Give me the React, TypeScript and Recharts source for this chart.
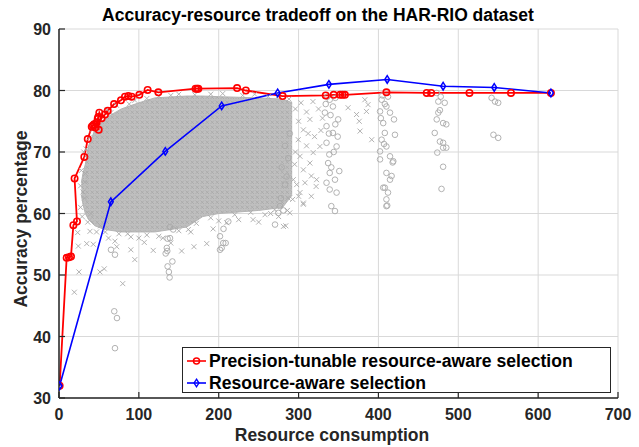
import React from 'react';
import { ComposedChart, Line, Scatter, Area, XAxis, YAxis, CartesianGrid } from 'recharts';

// precision-tunable resource-aware selection (red)
const tunablePoints: [number, number][] = [
  [0.8, 32], [9.6, 52.8], [12.5, 52.9], [15, 53], [18, 58.1], [22.5, 58.7], [19.5, 65.7],
  [31.7, 69.2], [36, 72.1], [41, 74.1], [42.5, 74.3], [44, 74.5], [45.5, 74], [47.2, 74.8],
  [49.7, 73.6], [48.5, 75.4], [49.2, 75.7], [50.5, 76.4], [53.4, 75.5], [57.6, 76.1], [61, 76.7],
  [69, 77.8], [77.6, 78.4], [82.6, 79.0], [86.8, 79.1], [91, 79], [100.6, 79.3], [111, 80.1],
  [124.4, 79.7], [171, 80.3], [173, 80.3], [174.5, 80.3], [223, 80.4], [234, 80], [280, 79.1],
  [334, 79.2], [344, 79.3], [352, 79.3], [355, 79.3], [358, 79.3], [410, 79.7], [460.5, 79.6],
  [466, 79.6], [514, 79.6], [566, 79.6], [616, 79.6],
];

// resource-aware selection (blue)
const awarePoints: [number, number][] = [
  [0.8, 32], [64.9, 61.9], [133.1, 70.1], [203.7, 77.5], [273.8, 79.6], [338, 81],
  [411, 81.8], [481, 80.7], [545, 80.5], [616, 79.6],
];

// dense cloud of candidate configurations
const cloudX = [28, 30, 33, 37, 45, 55, 58, 78, 100, 120, 160, 180, 200, 250, 280, 292];
const cloudTop = [65, 66.5, 68, 71, 73.6, 75, 75.5, 77, 78, 78.8, 79.1, 79.1, 79, 78.8, 78.6, 78];
const cloudBottom = [63, 61.5, 60, 59, 58, 57.5, 57.4, 57, 57, 57, 57.8, 59.5, 60, 60.5, 61, 63];

// sparse candidates drawn as crosses
const crossPoints: [number, number][] = [
  [32.6, 65.1], [23.4, 56.9], [24.2, 54.7], [34.7, 55.1], [25, 50.5], [19.2, 47.2], [51.3, 50.5],
  [56.7, 51], [79.8, 48.6], [43, 55], [38.8, 57.1], [72.3, 54.6], [90, 54.1], [94.9, 52.5],
  [86, 56.7], [106.8, 55.3], [118, 54], [153.6, 53.9], [169, 54.6], [185, 55.1], [162, 57.4],
  [193, 57.5], [243, 59], [250, 58.6], [284, 58], [287, 62.5], [297.6, 64.7], [300, 62.8],
  [306, 61.7], [316, 62.8], [322, 64.4], [281, 57.9], [289, 60.1], [292.6, 62.3], [301.8, 63.4],
  [308, 65], [316, 66.1], [322.6, 65.5], [306, 67.1], [314.2, 68.2], [318.3, 69.9], [326.7, 70.9],
  [301.8, 69.3], [293.4, 65.5], [306, 61.5], [299.6, 72], [306, 73.6], [314.2, 75.3], [362, 77.2],
  [372.6, 76.1], [376, 75], [385, 76.6], [387, 77.7], [377, 73.4], [391.6, 72], [383, 78.5],
  [27, 61], [29, 59.5], [36, 58.6], [47, 57], [62, 56], [70, 55.5], [100, 56], [130, 56],
  [140, 55.2], [210, 58.5], [225, 59], [265, 60], [275, 59.5], [296, 77], [303, 78], [310, 76.5],
  [318, 78.2], [325, 77], [330, 75.5], [300, 75], [312, 73], [320, 72.5], [296, 70], [328, 73.5],
  [295, 68], [310, 71], [28, 67], [27, 64.5], [31, 70],
  [34, 70.5], [38, 72.3], [42, 73.6], [52, 75.3], [65, 76.4], [88, 77.8], [110, 78.7], [140, 79.2],
  [170, 79.3], [190, 79.4], [230, 79.2], [262, 79], [288, 78.6], [32, 62.5], [40, 60], [52, 58],
  [75, 56.7], [110, 56.5], [150, 57.2], [172, 58.4], [190, 59.3], [220, 59.8], [240, 60.2], [270, 60.6],
  [60, 76.8], [72, 77.6], [95, 78.4], [125, 79.1], [150, 79.4], [205, 79.5], [245, 79.4], [275, 79.2],
  [35, 69.5], [33, 66.5], [30, 63.5], [58, 57], [90, 56.2], [125, 56.3], [165, 57], [200, 58.8],
  [258, 59.8], [286, 60.5],
];

// sparse candidates drawn as circles
const circlePoints: [number, number][] = [
  [70.1, 53.3], [65.1, 54.1], [69.2, 44.1], [72.6, 43], [70.1, 38.1],
  [139, 57.8], [136, 55.9], [135, 54.4], [133.6, 53.5], [142, 52.2], [136, 51.4], [137.6, 50.5],
  [138.5, 49.6], [143, 57.4], [139, 56], [135.6, 53.9],
  [201.6, 54.1], [208.7, 55.2], [201.6, 56.3], [205.7, 55.2], [203.7, 54.4], [212, 58.7], [206, 57.5],
  [270.5, 58.2], [274.6, 60.1], [276.7, 61.2], [283, 64.7], [278, 62.5], [281, 60.5], [285, 66],
  [279, 67.5], [287, 69], [283, 71], [289, 73],
  [339, 66.6], [345.6, 65.5], [335, 65], [351, 66.9], [339, 63.9], [347.6, 63.4], [341, 61.2],
  [345.6, 60.4], [338.5, 69.6], [337, 68.2], [347.6, 70.9], [335, 71.5], [343, 73.1], [335, 74.2],
  [349.6, 75.3], [333, 76.4], [343, 77.4], [339, 78.5], [353.8, 79.3], [340, 76], [346, 78.8],
  [336, 79], [349, 72.5], [341, 67.5], [344, 70], [338, 73], [346, 74.5], [334, 77.8],
  [404, 78.5], [410, 77.4], [402, 76.6], [414.5, 76.4], [406, 74.7], [419.5, 75.3], [408, 73.1],
  [404, 72], [420.7, 72.8], [410, 70.9], [402, 70.1], [414.5, 69.3], [402, 68.8], [418.6, 68.5],
  [410, 66.6], [414.5, 65.5], [408, 64.2], [412, 63.4], [410, 61.2], [410, 62.3], [416.5, 66.1],
  [406, 64.2], [411, 61.3], [417.8, 68.3], [405, 79.2], [412, 79], [408, 77.8], [403, 75.5], [407, 71.3],
  [473, 79.6], [478, 79], [475, 78.2], [483, 78], [475, 76.4], [477, 76.8], [473, 75.3], [481, 74.7],
  [485, 74.5], [470.5, 73.1], [477, 71.7], [481, 71.5], [485, 70.7], [481, 70.7], [473.7, 69.9],
  [481, 67.6], [479, 64],
  [541.7, 78.8], [546, 78.2], [550, 78], [544, 72.8], [550, 72.3],
];

const xTicks = [0, 100, 200, 300, 400, 500, 600, 700];
const yTicks = [30, 40, 50, 60, 70, 80, 90];

const FONT = '"Liberation Sans", Arial, Helvetica, sans-serif';
const INK = '#262626';

const toXY = (pts: [number, number][]) => pts.map(([x, y]) => ({ x, y }));
const cloudData = cloudX.map((x, i) => ({ x, range: [cloudBottom[i], cloudTop[i]] }));

const Cross = ({ cx, cy }: any) => (
  <path d={`M${cx - 2.5},${cy - 2.5}L${cx + 2.5},${cy + 2.5}M${cx - 2.5},${cy + 2.5}L${cx + 2.5},${cy - 2.5}`}
    stroke="#a9a9a9" strokeWidth={0.9} fill="none" />
);
const Ring = ({ cx, cy }: any) => (
  <circle cx={cx} cy={cy} r={2.8} stroke="#a9a9a9" strokeWidth={0.9} fill="none" />
);
const RedDot = ({ cx, cy, index }: any) => (
  <circle key={`r${index}`} cx={cx} cy={cy} r={3.2} stroke="#ff0000" strokeWidth={1.6} fill="none" />
);
const BlueDiamond = ({ cx, cy, index }: any) => (
  <path key={`b${index}`} d={`M${cx},${cy - 3.8}L${cx + 2.4},${cy}L${cx},${cy + 3.8}L${cx - 2.4},${cy}Z`}
    stroke="#0000ff" strokeWidth={1.5} fill="none" />
);

const YTick = ({ y, payload }: any) => (
  <g>
    <line x1={59} x2={65} y1={y} y2={y} stroke={INK} strokeWidth={1.2} />
    <text x={51} y={y + 6} textAnchor="end" fontSize={16} fontWeight="bold" fontFamily={FONT} fill={INK}>
      {payload.value}
    </text>
  </g>
);
const XTick = ({ x, payload }: any) => (
  <g>
    <line x1={x} x2={x} y1={398} y2={392} stroke={INK} strokeWidth={1.2} />
    <text x={x} y={420} textAnchor="middle" fontSize={16} fontWeight="bold" fontFamily={FONT} fill={INK}>
      {payload.value}
    </text>
  </g>
);

const legendItems = [
  { label: 'Precision-tunable resource-aware selection', color: '#ff0000', marker: 'o' },
  { label: 'Resource-aware selection', color: '#0000ff', marker: 'd' },
];

const LegendBox = () => (
  <div style={{ position: 'absolute', left: 182, top: 347, width: 429, height: 46, boxSizing: 'border-box',
    border: `1px solid ${INK}`, background: '#fff', fontFamily: FONT, fontSize: 17.6, fontWeight: 'bold', color: '#000' }}>
    {legendItems.map((it, i) => (
      <div key={i} style={{ position: 'absolute', left: 3, top: i === 0 ? 3 : 25, height: 20, lineHeight: '20px',
        display: 'flex', alignItems: 'center' }}>
        <svg width={21} height={12}>
          <line x1={1} x2={20} y1={6} y2={6} stroke={it.color} strokeWidth={1.6} />
          {it.marker === 'o'
            ? <circle cx={10.5} cy={6} r={3} stroke={it.color} strokeWidth={1.5} fill="none" />
            : <path d="M10.5,2.2L12.9,6L10.5,9.8L8.1,6Z" stroke={it.color} strokeWidth={1.4} fill="none" />}
        </svg>
        <span style={{ marginLeft: 2, whiteSpace: 'nowrap' }}>{it.label}</span>
      </div>
    ))}
  </div>
);

export default function App() {
  return (
    <div style={{ position: 'absolute', left: 0, top: 0, width: 639, height: 447, background: '#fff' }}>
      <ComposedChart width={639} height={447} margin={{ top: 29, right: 21, bottom: 0, left: 0 }}>
        <defs>
          <pattern id="cloudTex" width={5} height={5} patternUnits="userSpaceOnUse">
            <rect width={5} height={5} fill="#bfbfbf" />
            <path d="M0.5,0.5L4,4M0.5,4L4,0.5" stroke="#a8a8a8" strokeWidth={0.8} />
          </pattern>
        </defs>
        <CartesianGrid stroke="#d9d9d9" strokeWidth={1} vertical horizontal />
        <XAxis type="number" dataKey="x" domain={[0, 700]} ticks={xTicks} allowDataOverflow height={49}
          axisLine={{ stroke: INK, strokeWidth: 1.5 }} tickLine={false} tick={<XTick />} interval={0} />
        <YAxis type="number" domain={[30, 90]} ticks={yTicks} allowDataOverflow width={59}
          axisLine={{ stroke: INK, strokeWidth: 1.5 }} tickLine={false} tick={<YTick />} interval={0} />
        <Area data={cloudData} dataKey="range" type="linear" stroke="#b4b4b4" strokeWidth={1}
          fill="url(#cloudTex)" fillOpacity={1} isAnimationActive={false} />
        <Scatter data={toXY(crossPoints)} dataKey="y" shape={<Cross />} isAnimationActive={false} />
        <Scatter data={toXY(circlePoints)} dataKey="y" shape={<Ring />} isAnimationActive={false} />
        <Line data={toXY(tunablePoints)} dataKey="y" type="linear" stroke="#ff0000" strokeWidth={1.8}
          dot={RedDot} activeDot={false} isAnimationActive={false} />
        <Line data={toXY(awarePoints)} dataKey="y" type="linear" stroke="#0000ff" strokeWidth={1.6}
          dot={BlueDiamond} activeDot={false} isAnimationActive={false} />
        <text x={318} y={21} textAnchor="middle" fontSize={17.5} fontWeight="bold" fontFamily={FONT} fill="#000">
          Accuracy-resource tradeoff on the HAR-RIO dataset
        </text>
        <text x={332} y={441} textAnchor="middle" fontSize={17.5} fontWeight="bold" fontFamily={FONT} fill={INK}>
          Resource consumption
        </text>
        <text x={27} y={219} transform="rotate(-90 27 219)" textAnchor="middle" fontSize={17.5} fontWeight="bold"
          fontFamily={FONT} fill={INK}>
          Accuracy percentage
        </text>
      </ComposedChart>
      <LegendBox />
    </div>
  );
}
